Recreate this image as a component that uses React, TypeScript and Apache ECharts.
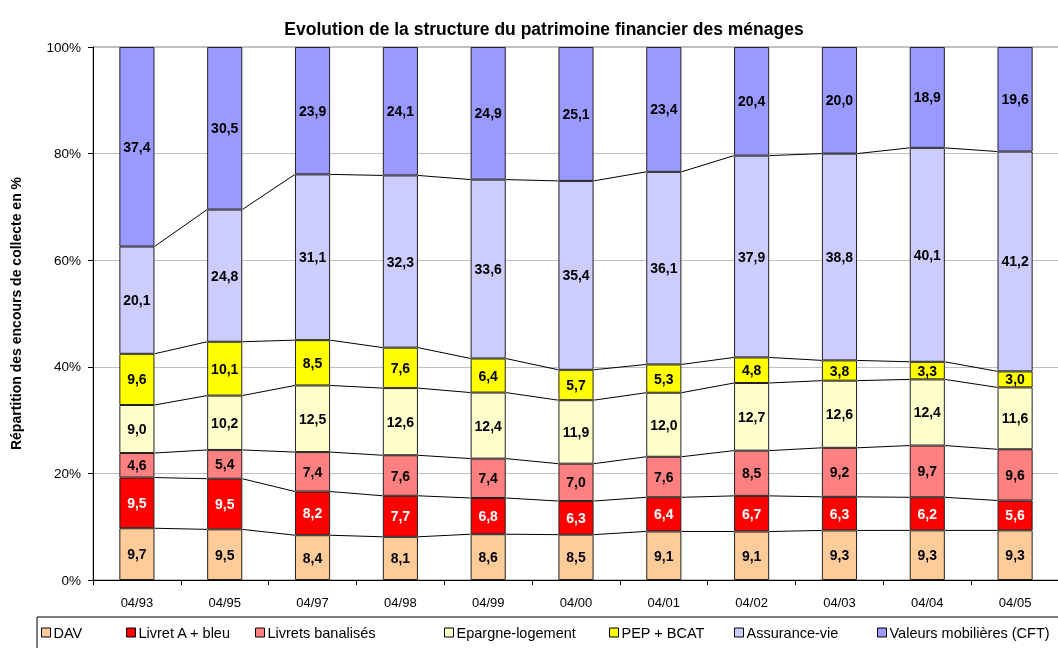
import React, { useEffect, useRef } from "react";
import * as echarts from "echarts";

const categories = ["04/93", "04/95", "04/97", "04/98", "04/99", "04/00", "04/01", "04/02", "04/03", "04/04", "04/05"];
const seriesNames = ["DAV", "Livret A + bleu", "Livrets banalisés", "Epargne-logement", "PEP + BCAT", "Assurance-vie", "Valeurs mobilières (CFT)"];
const dav = [9.7, 9.5, 8.4, 8.1, 8.6, 8.5, 9.1, 9.1, 9.3, 9.3, 9.3];
const livretA = [9.5, 9.5, 8.2, 7.7, 6.8, 6.3, 6.4, 6.7, 6.3, 6.2, 5.6];
const livretsBanalises = [4.6, 5.4, 7.4, 7.6, 7.4, 7.0, 7.6, 8.5, 9.2, 9.7, 9.6];
const epargneLogement = [9.0, 10.2, 12.5, 12.6, 12.4, 11.9, 12.0, 12.7, 12.6, 12.4, 11.6];
const pepBcat = [9.6, 10.1, 8.5, 7.6, 6.4, 5.7, 5.3, 4.8, 3.8, 3.3, 3.0];
const assuranceVie = [20.1, 24.8, 31.1, 32.3, 33.6, 35.4, 36.1, 37.9, 38.8, 40.1, 41.2];
const valeursMobilieres = [37.4, 30.5, 23.9, 24.1, 24.9, 25.1, 23.4, 20.4, 20.0, 18.9, 19.6];
const yTicks = [0, 20, 40, 60, 80, 100];

const colors = ["#FFCC99", "#FF0000", "#FF8080", "#FFFFCC", "#FFFF00", "#CCCCFF", "#9999FF"];
const labelColors = ["#000", "#fff", "#000", "#000", "#000", "#000", "#000"];
const legendLeft = [41, 126, 255, 444, 609, 734, 877];

const FONT = "'Liberation Sans', Arial, sans-serif";

export default function App() {
  const ref = useRef<HTMLDivElement>(null);
  useEffect(() => {
    if (!ref.current) return;
    const chart = echarts.init(ref.current, undefined, { renderer: "svg" });
    const all = [dav, livretA, livretsBanalises, epargneLogement, pepBcat, assuranceVie, valeursMobilieres];
    const totals = categories.map((_, i) => all.reduce((s, a) => s + a[i], 0));
    const norm = all.map((a) => a.map((v, i) => (v / totals[i]) * 100));
    const cum = categories.map((_, i) => {
      let s = 0;
      return norm.map((a) => (s += a[i]));
    });
    const barFrac = 0.4;

    const barSeries = seriesNames.map((name, k) => ({
      name,
      type: "bar",
      stack: "total",
      barWidth: barFrac * 100 + "%",
      data: norm[k],
      itemStyle: { color: colors[k], borderColor: "#222", borderWidth: 1 },
      label: {
        show: true,
        position: "inside",
        fontFamily: FONT,
        fontWeight: "bold",
        fontSize: 14,
        color: labelColors[k],
        formatter: (p: any) => all[k][p.dataIndex].toFixed(1).replace(".", ","),
      },
      z: 3,
    }));

    const lineSeries = {
      type: "custom",
      silent: true,
      data: categories.slice(0, -1).map((_, i) => [i]),
      encode: { x: 0 },
      renderItem: (params: any, api: any) => {
        const i = api.value(0);
        const band = api.size([1, 0])[0];
        const hw = (band * barFrac) / 2;
        const children: any[] = [];
        for (let k = 0; k < seriesNames.length - 1; k++) {
          const p1 = api.coord([i, cum[i][k]]);
          const p2 = api.coord([i + 1, cum[i + 1][k]]);
          children.push({
            type: "line",
            shape: { x1: p1[0] + hw, y1: p1[1], x2: p2[0] - hw, y2: p2[1] },
            style: { stroke: "#000", lineWidth: 1 },
          });
        }
        return { type: "group", children };
      },
      z: 4,
    };

    const legends = seriesNames.map((name, k) => ({
      data: [name],
      left: legendLeft[k],
      top: 625,
      orient: "horizontal",
      itemWidth: 9,
      itemHeight: 9,
      itemGap: 0,
      icon: "rect",
      selectedMode: false,
      itemStyle: { borderColor: "#000", borderWidth: 1 },
      textStyle: { fontFamily: FONT, fontSize: 14.5, color: "#000", padding: [0, 0, 0, -2] },
      padding: 0,
    }));

    chart.setOption({
      animation: false,
      textStyle: { fontFamily: FONT },
      title: {
        text: "Evolution de la structure du patrimoine financier des ménages",
        left: 539,
        top: 15,
        textAlign: "center",
        textStyle: { fontFamily: FONT, fontWeight: "bold", fontSize: 17.5, color: "#000" },
      },
      grid: {
        left: 93,
        right: -1,
        top: 47,
        bottom: 68,
        outerBoundsMode: "none",
        containLabel: false,
        show: true,
        borderColor: "#808080",
        borderWidth: 1,
        backgroundColor: "transparent",
      },
      legend: legends,
      xAxis: {
        type: "category",
        data: categories,
        axisLine: { lineStyle: { color: "#000", width: 1 } },
        axisTick: { show: true, length: 5, lineStyle: { color: "#000" }, alignWithLabel: false },
        axisLabel: { fontFamily: FONT, fontSize: 13, color: "#000", margin: 16 },
      },
      yAxis: {
        type: "value",
        min: 0,
        max: 100,
        interval: 20,
        name: "Répartition des encours de collecte en %",
        nameLocation: "middle",
        nameGap: 70,
        nameTextStyle: { fontFamily: FONT, fontWeight: "bold", fontSize: 14, color: "#000" },
        axisLine: { show: true, lineStyle: { color: "#000", width: 1 } },
        axisTick: { show: true, length: 5, lineStyle: { color: "#000" } },
        axisLabel: {
          fontFamily: FONT,
          fontSize: 13.5,
          color: "#000",
          margin: 12,
          formatter: (v: number) => (yTicks.includes(v) ? v + "%" : ""),
        },
        splitLine: { show: true, lineStyle: { color: "#C0C0C0", width: 1 } },
      },
      graphic: [
        {
          type: "rect",
          shape: { x: 37, y: 617, width: 1030, height: 40 },
          style: { fill: "none", stroke: "#000", lineWidth: 1 },
          silent: true,
        },
      ],
      series: [...barSeries, lineSeries],
    });
    return () => chart.dispose();
  }, []);
  return <div ref={ref} style={{ position: "fixed", left: 0, top: 0, width: 1058, height: 648 }} />;
}
